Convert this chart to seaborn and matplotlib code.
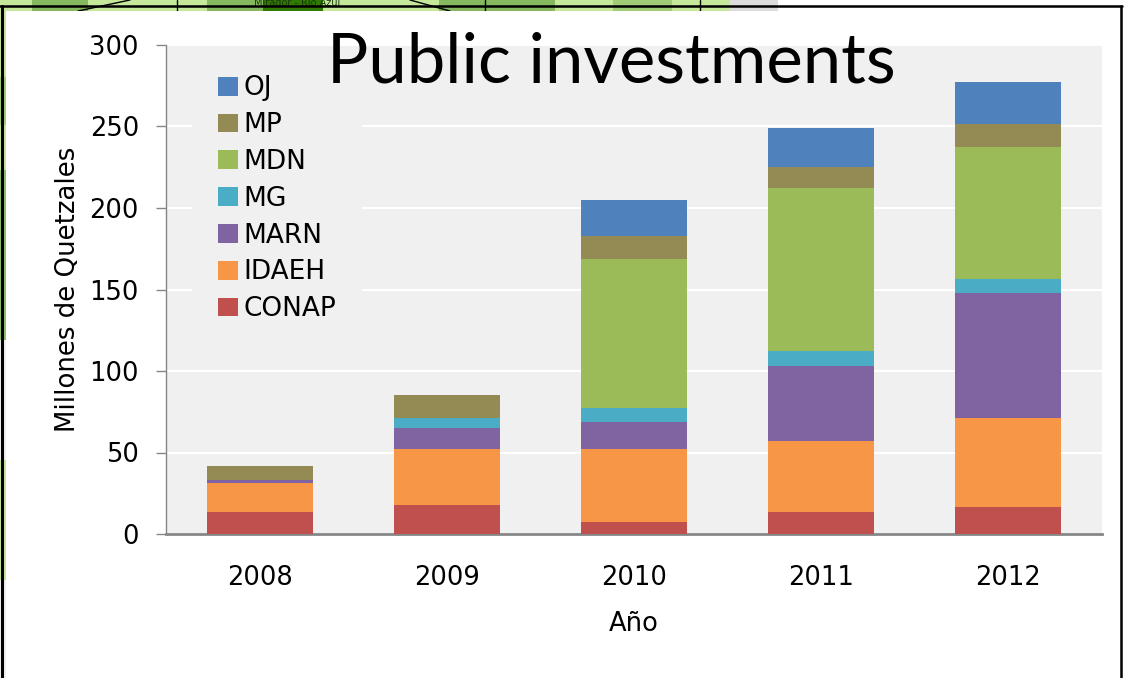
import matplotlib
matplotlib.use("Agg")
import matplotlib.pyplot as plt
from matplotlib.patches import Rectangle
from matplotlib.lines import Line2D
import seaborn as sns

years = ["2008", "2009", "2010", "2011", "2012"]
conap = [13.5, 18, 7.5, 13.5, 16.5]
idaeh = [17.8, 34, 44.5, 43.5, 54.5]
marn = [1.7, 13, 17, 46, 77]
mg = [0, 6, 8, 9, 8.5]
mdn = [0, 0, 91.7, 100, 81]
mp = [8.6, 14, 14, 13, 14]
oj = [0, 0, 22.5, 24, 25.5]

series = ["CONAP", "IDAEH", "MARN", "MG", "MDN", "MP", "OJ"]
values = [conap, idaeh, marn, mg, mdn, mp, oj]
colors = ["#c0504d", "#f79646", "#8064a2", "#4bacc6", "#9bbb59", "#948a54", "#4f81bd"]

W, H = 1125, 678
sns.set_style("white")
plt.rcParams["text.color"] = "black"
plt.rcParams["axes.labelcolor"] = "black"
plt.rcParams["xtick.labelcolor"] = "black"
plt.rcParams["ytick.labelcolor"] = "black"
fig = plt.figure(figsize=(W / 100, H / 100), dpi=100, facecolor="white")


def box(x0, y0, x1, y1, color, z=0):
    # pixel coords, y from the top
    fig.add_artist(Rectangle((x0 / W, 1 - y1 / H), (x1 - x0) / W, (y1 - y0) / H,
                             transform=fig.transFigure, facecolor=color, edgecolor="none", zorder=z))


def line(x0, y0, x1, y1, lw=1.5, color="black", z=1):
    fig.add_artist(Line2D([x0 / W, x1 / W], [1 - y0 / H, 1 - y1 / H], color=color, lw=lw, zorder=z))


# map picture showing behind the slide
box(0, 0, 778, 11, "#c5e89b")
box(32, 0, 88, 11, "#85b85f")
box(207, 0, 263, 11, "#85b85f")
box(263, 0, 323, 11, "#2f7a00")
box(439, 0, 555, 11, "#85b85f")
box(613, 0, 672, 11, "#a0cc78")
box(730, 0, 778, 11, "#dcdcdc")
box(0, 11, 6, 340, "#c5e89b")
box(0, 77, 6, 125, "#a0cc78")
box(0, 170, 6, 340, "#8fbf68")
box(0, 340, 6, 460, "#f0f0f0")
box(0, 460, 6, 580, "#c5e89b")
box(0, 580, 6, 678, "#f0f0f0")
for xv in (177, 485, 700):
    line(xv, 0, xv, 11, lw=1)
line(78, 11, 130, 0, lw=1)
line(410, 0, 450, 11, lw=1)
fig.text(297 / W, 1 - 3 / H, "Mirador - Rio Azul", fontsize=7, ha="center", va="center",
         color="#1a3a10", zorder=1)

# slide frame
box(6, 11, 1120, 678, "white", z=2)
line(0, 6, 1122, 6, lw=1.8, z=3)
line(1.5, 6, 1.5, 678, lw=2.2, z=3)
line(1121, 6, 1121, 678, lw=1.8, z=3)

ax = fig.add_axes([166 / W, 1 - 534 / H, (1102 - 166) / W, (534 - 45) / H], zorder=5)
ax.set_facecolor("#f0f0f0")

bottom = [0] * len(years)
for name, vals, col in zip(series, values, colors):
    sns.barplot(x=years, y=vals, bottom=bottom, color=col, saturation=1, width=0.566,
                label=name, ax=ax, zorder=3, legend=False, linewidth=0, edgecolor="none")
    bottom = [b + v for b, v in zip(bottom, vals)]

ax.set_ylim(0, 300)
ax.set_xlim(-0.5, 4.5)
ax.set_yticks(range(0, 301, 50))
ax.grid(True, axis="y", color="white", linewidth=1.5, zorder=1)
ax.set_axisbelow(True)
for s in ("top", "right"):
    ax.spines[s].set_visible(False)
ax.spines["left"].set_color("#868686")
ax.spines["left"].set_linewidth(1)
ax.spines["bottom"].set_color("#868686")
ax.spines["bottom"].set_linewidth(2)
ax.tick_params(axis="y", length=7.5, width=1, color="#868686", left=True, labelsize=18.5, pad=12)
ax.tick_params(axis="x", length=0, labelsize=18.5, pad=22)
ax.set_xlabel("Año", fontsize=18.5, labelpad=15)
ax.set_ylabel("Millones de Quetzales", fontsize=18.7, labelpad=6, fontweight="medium")

handles, labels = ax.get_legend_handles_labels()
leg = ax.legend(handles[::-1], labels[::-1], loc="upper left", bbox_to_anchor=(26 / 936, 1 - 4 / 489),
                frameon=True, facecolor="#f0f0f0", edgecolor="none", framealpha=1, fontsize=19,
                handlelength=0.76, handleheight=0.72, handletextpad=0.18, labelspacing=0.41,
                borderaxespad=0, borderpad=1.0)
leg.set_zorder(2)

fig.text(611.5 / W, 1 - 63 / H, "Public investments", fontsize=49.6, family="Lato",
         ha="center", va="center", color="black", zorder=10)

fig.savefig("out.png", dpi=100)
plt.close(fig)
